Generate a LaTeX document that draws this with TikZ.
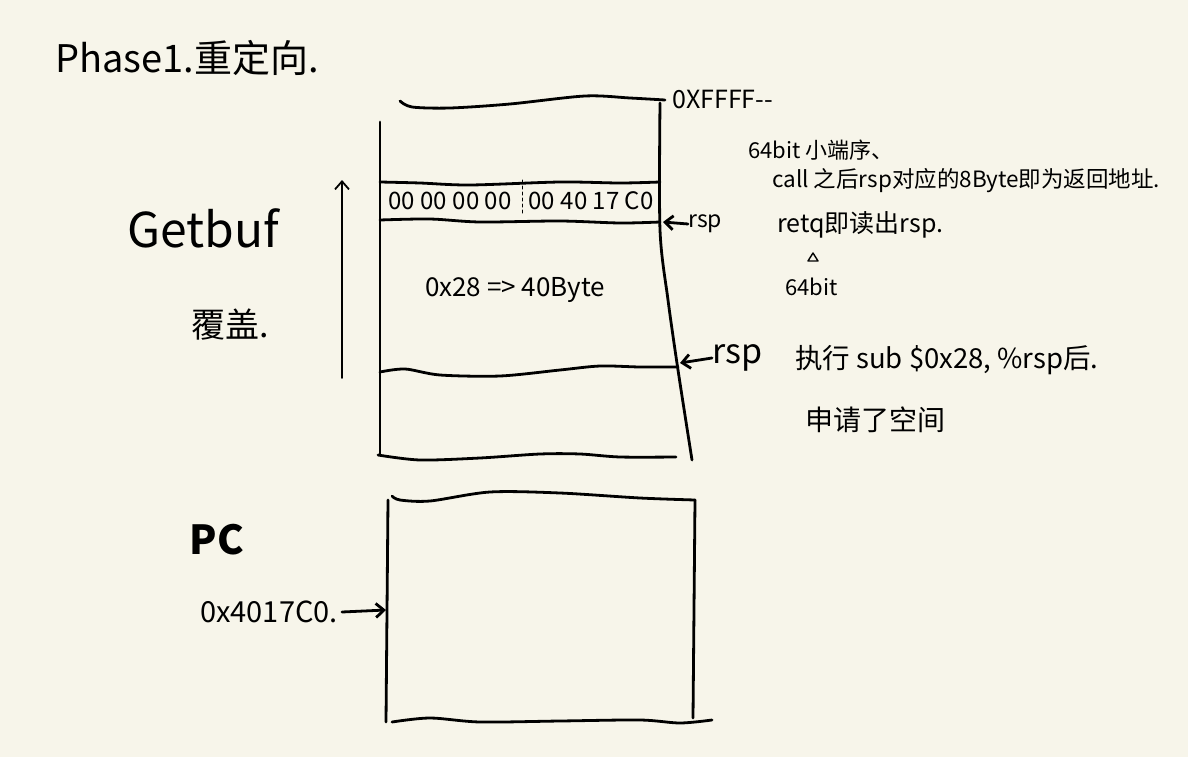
\documentclass[tikz,border=0pt]{standalone}
\usepackage{fontspec}
\newfontfamily\cjk{Noto Sans CJK SC}
\usetikzlibrary{arrows.meta}
\definecolor{paper}{HTML}{F7F5EA}

\begin{document}
\begin{tikzpicture}[x=1pt, y=-1pt, >={Straight Barb[length=8pt, width=14pt]},
  font=\cjk, line cap=round, line join=round,
  ln/.style={line width=2.8pt},
  t/.style={inner sep=0pt, anchor=west},
  fs/.style={font=\cjk\fontsize{#1}{#1}\selectfont}]
  \fill[paper] (0,0) rectangle (1188,757);
  \useasboundingbox (0,0) rectangle (1188,757);

  % title
  \node[t, fs=38] (title) at (55,58) {Phase1.重定向.};

  % stack frame
  \draw[ln] plot[smooth] coordinates {(400,101) (412,107) (450,108) (510,104) (585,96) (630,98) (665,100)};
  \node[t, fs=25] (top) at (672,100) {0XFFFF--};
  \draw[ln] (380,122) -- (380,455);
  \draw[ln] plot[smooth] coordinates {(660,103) (660,230) (668,300) (678,370) (692,460)};
  \draw[ln] plot[smooth] coordinates {(380,182) (420,183) (470,185) (560,182) (620,183) (660,182)};
  \draw[line width=1pt, dashed] (522,180) -- (522,215);
  \draw[ln] plot[smooth] coordinates {(380,220) (430,219) (480,222) (560,221) (620,223) (660,222)};
  \node[fs=24] (lo) at (450,201) {00 00 00 00};
  \node[fs=24] (hi) at (591,201) {00 40 17 C0};
  \node[fs=26] (size) at (515,290) {0x28 =\textgreater{} 40Byte};
  \draw[ln] plot[smooth] coordinates {(380,372) (405,369) (440,375) (500,376) (560,370) (600,366) (640,367) (678,367)};
  \draw[ln] plot[smooth] coordinates {(378,455) (420,460) (480,458) (540,454) (580,454) (620,457) (676,457)};

  % rsp pointers
  \coordinate (w1) at (663,222);
  \coordinate (w2) at (680,363);
  \node[t, fs=23] (rsp1) at (688,224) {rsp};
  \node[t, fs=34] (rsp2) at (712,358) {rsp};
  \draw[ln, ->] (rsp1.west) -- (w1);
  \draw[ln, ->] (rsp2.west) -- (w2);

  % overwrite direction
  \coordinate (up0) at (342,378);
  \coordinate (up1) at (342,180);
  \draw[line width=1.8pt, ->] (up0) -- (up1);
  \node[fs=48] (getbuf) at (203,228) {Getbuf};
  \node[fs=34] (cover) at (230,325) {覆盖.};

  % notes
  \node[t, fs=22] (n1) at (748,150) {64bit 小端序、};
  \node[t, fs=22.5] (n2) at (772,181) {call 之后rsp对应的8Byte即为返回地址.};
  \node[t, fs=25] (n3) at (777,225) {retq即读出rsp.};
  \node[t, fs=22] (n4) at (785,287) {64bit};
  \draw[line width=1.4pt] (808,261) -- (813,253) -- (818,261) -- cycle;
  \node[t, fs=27.5] (n5) at (795,360) {执行 sub \$0x28, \%rsp后.};
  \node[t, fs=28] (n6) at (805,420) {申请了空间};

  % PC
  \node[font=\cjk\bfseries\fontsize{40}{40}\selectfont] (pc) at (217,540) {PC};
  \node[t, fs=29] (pcval) at (200,612) {0x4017C0.};
  \coordinate (pcin) at (386,610);
  \draw[ln, ->] (pcval.east) ++(4,0) -- (pcin);
  \draw[ln] plot[smooth] coordinates {(392,496) (400,500) (430,501) (490,492) (560,493) (640,498) (695,500)};
  \draw[ln] (388,500) -- (386,722);
  \draw[ln] (695,500) -- (693,718);
  \draw[ln] plot[smooth] coordinates {(392,722) (430,718) (480,722) (560,721) (640,720) (680,723) (712,720)};
\end{tikzpicture}
\end{document}
